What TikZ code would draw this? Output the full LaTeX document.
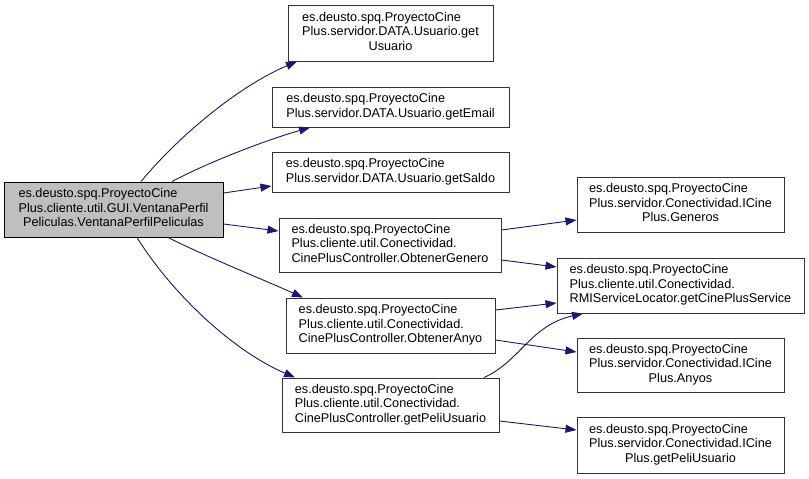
\documentclass[tikz,border=0pt]{standalone}
\usepackage{fontspec}
\setmainfont{Liberation Sans}
\usetikzlibrary{arrows.meta}
\definecolor{edgeblue}{HTML}{191970}
\definecolor{boxline}{HTML}{333333}
\definecolor{mainfill}{HTML}{BFBFBF}
\newcommand\lblthree[3]{\begin{tabular}{@{}l@{}}#1\\#2\\\multicolumn{1}{@{}c@{}}{#3}\end{tabular}}
\newcommand\lbltwo[2]{\begin{tabular}{@{}l@{}}#1\\\multicolumn{1}{@{}c@{}}{#2}\end{tabular}}
\begin{document}
\begin{tikzpicture}[x=1pt,y=-1pt,
  fnode/.style={draw=boxline,line width=1pt,fill=white,inner sep=0pt,
    font=\fontsize{12.7}{14.5}\selectfont},
  mainnode/.style={fnode,fill=mainfill,draw=black},
  call/.style={draw=edgeblue,line width=0.9pt,-{Triangle[length=11pt,width=8pt]}}]
\useasboundingbox (0,0) rectangle (809,479);
\fill[white] (0,0) rectangle (809,479);
% nodes
\node[mainnode,minimum width=219pt,minimum height=55pt] (main) at (113.5,209.5)
  {\lblthree{es.deusto.spq.ProyectoCine}{Plus.cliente.util.GUI.VentanaPerfil}{Peliculas.VentanaPerfilPeliculas}};
\node[fnode,minimum width=205pt,minimum height=56pt] (gu) at (390.5,33)
  {\lblthree{es.deusto.spq.ProyectoCine}{Plus.servidor.DATA.Usuario.get}{Usuario}};
\node[fnode,minimum width=237pt,minimum height=40pt] (ge) at (390.5,107)
  {\lbltwo{es.deusto.spq.ProyectoCine}{Plus.servidor.DATA.Usuario.getEmail}};
\node[fnode,minimum width=237pt,minimum height=40pt] (gs) at (390.5,172)
  {\lbltwo{es.deusto.spq.ProyectoCine}{Plus.servidor.DATA.Usuario.getSaldo}};
\node[fnode,minimum width=222pt,minimum height=54pt] (og) at (390,245)
  {\lblthree{es.deusto.spq.ProyectoCine}{Plus.cliente.util.Conectividad.}{CinePlusController.ObtenerGenero}};
\node[fnode,minimum width=209pt,minimum height=55pt] (oa) at (390.5,325.5)
  {\lblthree{es.deusto.spq.ProyectoCine}{Plus.cliente.util.Conectividad.}{CinePlusController.ObtenerAnyo}};
\node[fnode,minimum width=217pt,minimum height=54pt] (gp) at (390.5,405)
  {\lblthree{es.deusto.spq.ProyectoCine}{Plus.cliente.util.Conectividad.}{CinePlusController.getPeliUsuario}};
\node[fnode,minimum width=207pt,minimum height=55pt] (gen) at (680.5,204.5)
  {\lblthree{es.deusto.spq.ProyectoCine}{Plus.servidor.Conectividad.ICine}{Plus.Generos}};
\node[fnode,minimum width=247pt,minimum height=55pt] (rmi) at (680.5,285.5)
  {\lblthree{es.deusto.spq.ProyectoCine}{Plus.cliente.util.Conectividad.}{RMIServiceLocator.getCinePlusService}};
\node[fnode,minimum width=207pt,minimum height=54pt] (any) at (680.5,365)
  {\lblthree{es.deusto.spq.ProyectoCine}{Plus.servidor.Conectividad.ICine}{Plus.Anyos}};
\node[fnode,minimum width=207pt,minimum height=56pt] (icp) at (680.5,445)
  {\lblthree{es.deusto.spq.ProyectoCine}{Plus.servidor.Conectividad.ICine}{Plus.getPeliUsuario}};
% edges
\draw[call] ([xshift=27.5pt]main.north) .. controls +(39,-47) and +(-57,24) .. ([xshift=-93.5pt]gu.south);
\draw[call] ([xshift=58.5pt]main.north) .. controls +(38,-20) and +(-45,13) .. ([xshift=-80.5pt]ge.south);
\draw[call] ([yshift=16.5pt]main.east) -- ([yshift=-14pt]gs.west);
\draw[call] ([yshift=-14.5pt]main.east) -- ([yshift=14pt]og.west);
\draw[call] ([xshift=54.5pt]main.south) .. controls +(40,20) and +(-40,-18) .. ([xshift=-87.5pt]oa.north);
\draw[call] ([xshift=23.5pt]main.south) .. controls +(33,53) and +(-65,-28) .. ([xshift=-95.5pt]gp.north);
\draw[call] ([yshift=15pt]og.east) -- ([yshift=-15.5pt]gen.west);
\draw[call] ([yshift=-15pt]og.east) -- ([yshift=18.5pt]rmi.west);
\draw[call] ([yshift=15.5pt]oa.east) -- ([yshift=-17.5pt]rmi.west);
\draw[call] ([yshift=-14.5pt]oa.east) -- ([yshift=13pt]any.west);
\draw[call] ([xshift=93.5pt]gp.north) .. controls +(36,-16) and +(-53,12) .. ([xshift=-97.5pt]rmi.south);
\draw[call] ([yshift=-16pt]gp.east) -- ([yshift=15pt]icp.west);
\end{tikzpicture}
\end{document}
